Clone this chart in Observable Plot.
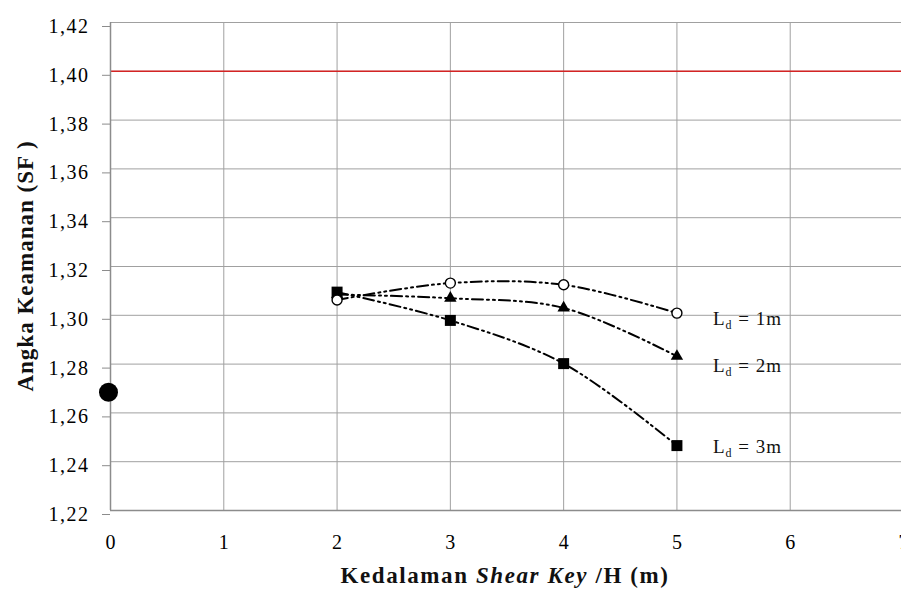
<!DOCTYPE html>
<html>
<head>
<meta charset="utf-8">
<script src="https://cdn.jsdelivr.net/npm/d3@7"></script>
<script src="https://cdn.jsdelivr.net/npm/@observablehq/plot@0.6"></script>
<style>
  html, body { margin: 0; padding: 0; background: #fff; overflow: hidden; }
  #chart svg { display: block; overflow: hidden; font-family: 'Liberation Serif', 'Times New Roman', serif; }
  #chart svg text { font-family: 'Liberation Serif', 'Times New Roman', serif !important; }
  .ytick text { font-size: 20px !important; letter-spacing: 1.5px; }
  .xtick text { font-size: 20px !important; }
</style>
</head>
<body>
<div id="chart"></div>
<script>
// ---- data ----
const depth = [2, 3, 4, 5];
const sfLd1 = [1.3063, 1.3132, 1.3125, 1.3009];
const sfLd2 = [1.3085, 1.3070, 1.3030, 1.2832];
const sfLd3 = [1.3095, 1.2979, 1.2802, 1.2466];
const seriesNames = ["1m", "2m", "3m"];
const noKeyDepth = [0];
const noKeySF = [1.2685];
const sfLimit = [1.40];
const xTicks = [0, 1, 2, 3, 4, 5, 6, 7];
const yTicks = [1.22, 1.24, 1.26, 1.28, 1.30, 1.32, 1.34, 1.36, 1.38, 1.40, 1.42];
const xTitle = ["Kedalaman ", "Shear Key", " /H (m)"];
const yTitle = "Angka Keamanan (SF )";

// ---- tables ----
const seriesValues = [sfLd1, sfLd2, sfLd3];
const rows = seriesValues.flatMap((vals, s) =>
  depth.map((d, i) => ({ x: d, y: vals[i], series: seriesNames[s] })));
const bySeries = name => rows.filter(r => r.series === name);
const lastOf = name => bySeries(name).slice(-1);
const baseRows = noKeyDepth.map((d, i) => ({ x: d, y: noKeySF[i] }));

const fmt = d => d.toFixed(2).replace(".", ",");
const dash = "11,4,2,4,2,4";
const gridColor = "#a0a0a0";
const axisColor = "#8c8c8c";
const serif = "'Liberation Serif', 'Times New Roman', serif";

const chart = Plot.plot({
  width: 901,
  height: 591,
  marginLeft: 110,
  marginRight: -2,
  marginTop: 22,
  marginBottom: 81,
  style: { fontFamily: serif, fontSize: "20px", background: "#fff" },
  x: { domain: [0, 7] },
  y: { domain: [1.22, 1.42] },
  marks: [
    Plot.ruleY(yTicks.slice(1), { stroke: gridColor, strokeWidth: 1 }),
    Plot.ruleX(xTicks.slice(1), { stroke: gridColor, strokeWidth: 1 }),
    Plot.ruleY(sfLimit, { stroke: "#d42424", strokeWidth: 1.5 }),
    Plot.ruleY([yTicks[0]], { stroke: axisColor, strokeWidth: 1.5 }),
    Plot.ruleX([xTicks[0]], { stroke: axisColor, strokeWidth: 1.5 }),
    Plot.axisY({ ticks: yTicks, tickFormat: fmt, tickSize: 8, tickPadding: 13, dy: 4, stroke: axisColor, label: null, fill: "#000", fontSize: 20, fontFamily: serif, className: "ytick" }),
    Plot.axisX({ ticks: xTicks, tickFormat: d => String(d), tickSize: 0, tickPadding: 24, label: null, fill: "#000", fontSize: 20, fontFamily: serif, className: "xtick" }),
    Plot.line(rows, { x: "x", y: "y", z: "series", curve: "catmull-rom", stroke: "#000", strokeWidth: 2, strokeDasharray: dash }),
    Plot.dot(bySeries("2m"), { x: "x", y: "y", symbol: "triangle", r: 4.6, fill: "#000", stroke: "none" }),
    Plot.dot(bySeries("3m"), { x: "x", y: "y", symbol: "square", r: 6.2, fill: "#000", stroke: "none" }),
    Plot.dot(bySeries("1m"), { x: "x", y: "y", symbol: "circle", r: 5, fill: "#fff", stroke: "#000", strokeWidth: 1.4 }),
    Plot.dot(baseRows, { x: "x", y: "y", r: 9.5, fill: "#000", stroke: "none", dx: -2 }),
    Plot.text(lastOf("1m"), { x: "x", y: "y", text: "series", dx: 36, dy: 12, lineAnchor: "bottom", textAnchor: "start", fontSize: 19, fontFamily: serif, fill: "#111", className: "ldlabel" }),
    Plot.text(lastOf("2m"), { x: "x", y: "y", text: "series", dx: 36, dy: 16, lineAnchor: "bottom", textAnchor: "start", fontSize: 19, fontFamily: serif, fill: "#111", className: "ldlabel" }),
    Plot.text(lastOf("3m"), { x: "x", y: "y", text: "series", dx: 36, dy: 7, lineAnchor: "bottom", textAnchor: "start", fontSize: 19, fontFamily: serif, fill: "#111", className: "ldlabel" })
  ]
});

const svg = d3.select(chart.tagName.toLowerCase() === "svg" ? chart : chart.querySelector("svg"));

// subscripted labels
svg.selectAll("g.ldlabel text").each(function () {
  const t = d3.select(this);
  const name = t.text();
  t.text(null).attr("letter-spacing", "1px");
  t.append("tspan").text("L");
  t.append("tspan").attr("font-size", 12).attr("dy", 4).text("d");
  t.append("tspan").attr("dy", -4).text(" = " + name);
});

// axis titles
const xt = svg.append("text")
  .attr("x", 505).attr("y", 583)
  .attr("text-anchor", "middle")
  .attr("font-family", serif).attr("font-size", 23)
  .attr("font-weight", "bold").attr("fill", "#111").attr("letter-spacing", "1.6px");
xt.append("tspan").text(xTitle[0]);
xt.append("tspan").attr("font-style", "italic").text(xTitle[1]);
xt.append("tspan").text(xTitle[2]);

svg.append("text")
  .attr("transform", "translate(33,266) rotate(-90)")
  .attr("text-anchor", "middle")
  .attr("font-family", serif).attr("font-size", 23)
  .attr("font-weight", "bold").attr("fill", "#111").attr("letter-spacing", "1px")
  .text(yTitle);

document.getElementById("chart").appendChild(chart);
</script>
</body>
</html>
